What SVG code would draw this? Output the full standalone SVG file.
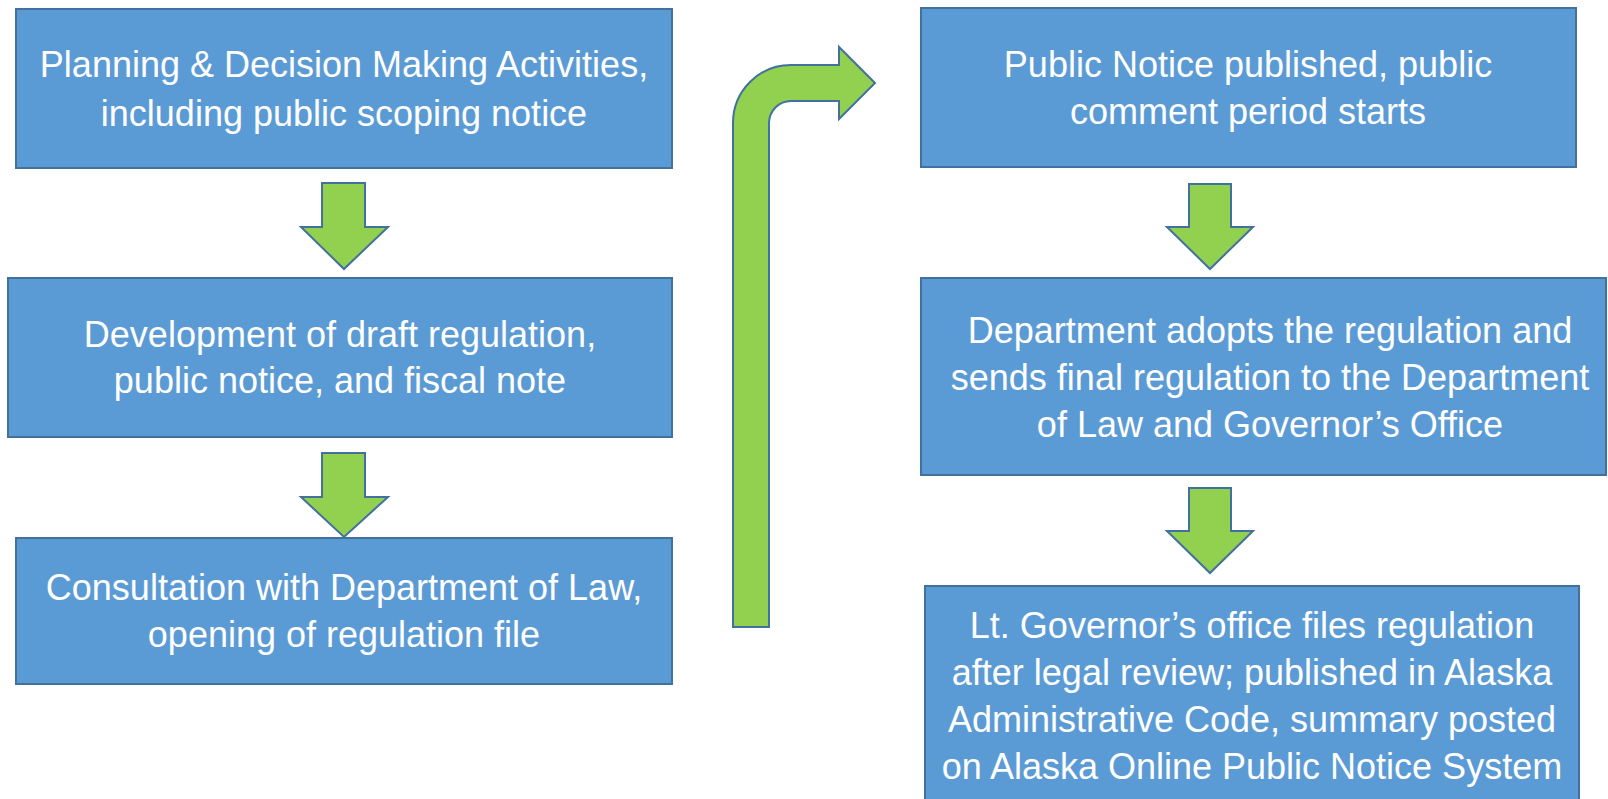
<svg xmlns="http://www.w3.org/2000/svg" width="1608" height="799" viewBox="0 0 1608 799">
<style>
.box{fill:#5B9BD5;stroke:#41719C;stroke-width:2}
.arr{fill:#92D050;stroke:#41719C;stroke-width:2;stroke-linejoin:miter}
text{font-family:"Liberation Sans",Arial,sans-serif;font-size:36px;fill:#FFFFFF;text-anchor:middle}
</style>
<rect width="1608" height="799" fill="#FFFFFF"/>
<g id="n1"><rect class="box" x="16" y="9" width="656" height="159"/>
<text x="344" y="77">Planning &amp; Decision Making Activities,</text>
<text x="344" y="126">including public scoping notice</text></g>
<g id="n2"><rect class="box" x="8" y="278" width="664" height="159"/>
<text x="340" y="347">Development of draft regulation,</text>
<text x="340" y="393">public notice, and fiscal note</text></g>
<g id="n3"><rect class="box" x="16" y="538" width="656" height="146"/>
<text x="344" y="600">Consultation with Department of Law,</text>
<text x="344" y="647">opening of regulation file</text></g>
<g id="n4"><rect class="box" x="921" y="8" width="655" height="159"/>
<text x="1248" y="77">Public Notice published, public</text>
<text x="1248" y="124">comment period starts</text></g>
<g id="n5"><rect class="box" x="921" y="278" width="685" height="197"/>
<text x="1270" y="343">Department adopts the regulation and</text>
<text x="1270" y="390">sends final regulation to the Department</text>
<text x="1270" y="437">of Law and Governor’s Office</text></g>
<g id="n6"><rect class="box" x="925" y="586" width="654" height="230"/>
<text x="1252" y="638">Lt. Governor’s office files regulation</text>
<text x="1252" y="685">after legal review; published in Alaska</text>
<text x="1252" y="732">Administrative Code, summary posted</text>
<text x="1252" y="779">on Alaska Online Public Notice System</text></g>
<g id="connectors">
<path class="arr" d="M322,183 H365 V227 H388 L344,269 L301,227 H322 Z"/>
<path class="arr" d="M322,453 H365 V497 H388 L344,537 L301,497 H322 Z"/>
<path class="arr" d="M1189,184 H1231 V227 H1253 L1210,269 L1167,227 H1189 Z"/>
<path class="arr" d="M1189,488 H1231 V531 H1253 L1210,573 L1167,531 H1189 Z"/>
<path class="arr" d="M733,627 V123 A58,58 0 0 1 791,65 H839 V47 L875,83 L839,119 V101 H791 A22,22 0 0 0 769,123 V627 Z"/>
</g>
</svg>
